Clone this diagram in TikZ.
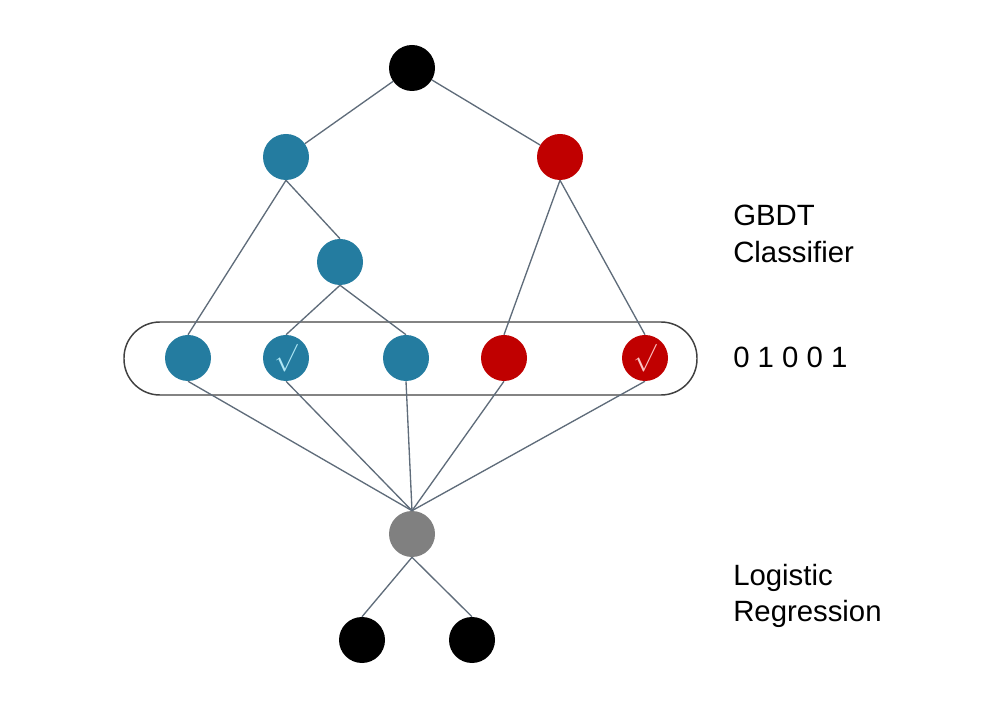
\documentclass[tikz,border=0pt]{standalone}
\usepackage{fontspec}
\setmainfont{Liberation Sans}
\definecolor{gbdtblue}{RGB}{36,124,160}
\definecolor{gbdtred}{RGB}{192,0,0}
\definecolor{lrgray}{RGB}{128,128,128}
\definecolor{edgegray}{RGB}{95,108,122}
\definecolor{tickblue}{RGB}{175,232,246}
\definecolor{tickred}{RGB}{252,196,196}
\tikzset{
    treenode/.style={circle, minimum size=34.5pt, inner sep=0pt},
    bluenode/.style={treenode, fill=gbdtblue},
    rednode/.style={treenode, fill=gbdtred},
    blacknode/.style={treenode, fill=black},
    graynode/.style={treenode, fill=lrgray},
    edge/.style={draw=edgegray, line width=1pt},
    rowbox/.style={draw=black!75, line width=1.1pt, rounded corners=27pt},
    tick/.style={font=\fontsize{21}{21}\selectfont},
    caption/.style={font=\fontsize{22}{27.5}\selectfont, align=left, inner sep=0pt}
}

\begin{document}
\begin{tikzpicture}[x=0.75pt, y=-0.75pt]
    \useasboundingbox (0,0) rectangle (1000,705);

    % GBDT tree
    \node[blacknode] (root) at (412,68)  {};
    \node[bluenode]  (b1)   at (286,157) {};
    \node[rednode]   (r1)   at (560,157) {};
    \node[bluenode]  (b2)   at (340,262) {};

    % leaves of the tree
    \draw[rowbox] (124,322) rectangle (697,395);
    \node[bluenode] (l1) at (188,358) {};
    \node[bluenode, tick, text=tickblue] (l2) at (286,358) {$\surd$};
    \node[bluenode] (l3) at (406,358) {};
    \node[rednode]  (l4) at (504,358) {};
    \node[rednode, tick, text=tickred]   (l5) at (645,358) {$\surd$};

    % logistic regression
    \node[graynode]  (lr) at (412,534) {};
    \node[blacknode] (o1) at (362,640) {};
    \node[blacknode] (o2) at (472,640) {};

    \path[edge] (root) edge (b1)
                (root) edge (r1)
                (b1.south) edge (l1.north)
                (b1.south) edge (b2.north)
                (b2.south) edge (l2.north)
                (b2.south) edge (l3.north)
                (r1.south) edge (l4.north)
                (r1.south) edge (l5.north);
    \foreach \l in {l1,l2,l3,l4,l5}
        \draw[edge] (\l.south) -- (lr.north);
    \path[edge] (lr.south) edge (o1.north)
                (lr.south) edge (o2.north);

    % captions
    \node[caption, anchor=west]      (gbdt) at (733,234) {GBDT\\Classifier};
    \node[caption, anchor=base west] (code) at (733,368) {0 1 0 0 1};
    \node[caption, anchor=west]      (logr) at (733,596) {Logistic\\Regression};
\end{tikzpicture}
\end{document}
